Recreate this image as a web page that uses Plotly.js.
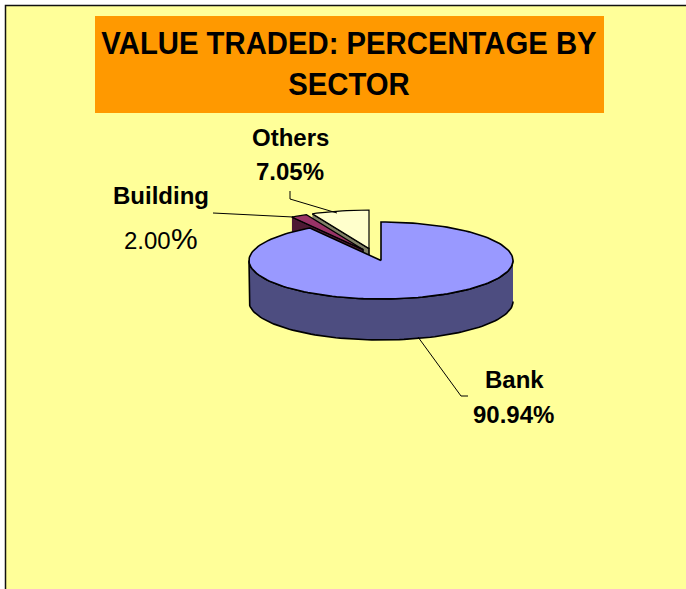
<!DOCTYPE html>
<html>
<head>
<meta charset="utf-8">
<script src="https://cdn.plot.ly/plotly-3.0.1.min.js"></script>
<style>html,body{margin:0;padding:0;background:#fff}#chart{width:686px;height:589px}</style>
</head>
<body>
<div id="chart"></div>
<script>
// Data
const titleText = "VALUE TRADED: PERCENTAGE BY<br>SECTOR";
const sectors = ["Bank", "Building", "Others"];
const shares = [90.94, 2.00, 7.05];

// Pie projection
const cx = 381, cy = 260.5, rx = 132, ry = 38.5, depth = 41;
const offsets = {Bank: [0, 0], Building: [-18, -11], Others: [-12, -12]};
const topColors = {Bank: "#9999FF", Building: "#993366", Others: "#FFFFCC"};
const faceColors = {Bank: "#4D4D80", Building: "#4D1933", Others: "#808066"};

const total = shares.reduce((a, b) => a + b, 0);
const traces = [];

function pt(name, deg, down) {
  const a = deg * Math.PI / 180, o = offsets[name];
  return [cx + o[0] + rx * Math.sin(a), cy + o[1] - ry * Math.cos(a) + (down || 0)];
}
function vertex(name, down) {
  const o = offsets[name];
  return [cx + o[0], cy + o[1] + (down || 0)];
}
function arc(name, from, to, down) {
  const n = Math.max(2, Math.ceil(Math.abs(to - from) / 2)), out = [];
  for (let i = 0; i <= n; i++) out.push(pt(name, from + (to - from) * i / n, down));
  return out;
}
function poly(points, fill, width) {
  traces.push({
    type: "scatter", mode: "lines", fill: "toself", fillcolor: fill,
    x: points.map(p => p[0]), y: points.map(p => p[1]),
    line: {color: "#000", width: width || 1.6}, hoverinfo: "skip", showlegend: false
  });
}

// slice angles, clockwise from twelve o'clock
const spans = {};
let acc = 0;
sectors.forEach((s, i) => {
  const sweep = shares[i] / total * 360;
  spans[s] = [acc, acc + sweep];
  acc += sweep;
});

// back to front
["Others", "Building", "Bank"].forEach(s => {
  const [a0, a1] = spans[s];
  if (s === "Bank") {
    poly(arc(s, 90, 270, 0).concat(arc(s, 270, 90, depth)), faceColors[s]);
  } else {
    poly([pt(s, a0), vertex(s), vertex(s, depth), pt(s, a0, depth)], faceColors[s]);
  }
  poly([vertex(s)].concat(arc(s, a0, a1, 0), [vertex(s)]), topColors[s], s === "Bank" ? 1.6 : 1.2);
});

// Leader lines
const leaders = [
  {x: [290, 290, 337], y: [191, 199, 213]},
  {x: [213, 293], y: [213, 217]},
  {x: [418, 461, 468], y: [337, 396, 396]}
];
leaders.forEach(l => traces.push({
  type: "scatter", mode: "lines", x: l.x, y: l.y,
  line: {color: "#000", width: 1}, hoverinfo: "skip", showlegend: false
}));

const face = "Liberation Sans, Arial, sans-serif";
const pct = v => v.toFixed(2) + "%";
function label(x, y, text, size, bold) {
  return {
    x, y, xref: "x", yref: "y", text, showarrow: false, xanchor: "center", yanchor: "middle",
    font: {family: face, size, color: "#000", weight: bold ? 700 : 400}
  };
}
const annotations = [
  label(290, 137, sectors[2], 24, true),
  label(290, 171, pct(shares[2]), 24, true),
  label(161, 195, sectors[1], 24, true),
  label(147.5, 240, shares[1].toFixed(2), 24, false),
  label(184, 238, "%", 30, false),
  label(514, 379, sectors[0], 24, true),
  label(513, 414, pct(shares[0]), 24, true)
];

const layout = {
  width: 686, height: 589,
  margin: {l: 0, r: 0, t: 0, b: 0},
  paper_bgcolor: "#fff", plot_bgcolor: "rgba(0,0,0,0)",
  showlegend: false,
  title: {
    text: titleText,
    font: {family: face, size: 29.3, color: "#000", weight: 700},
    x: 349 / 686, xanchor: "center", y: 1 - 55 / 589, yanchor: "middle"
  },
  xaxis: {range: [0, 686], visible: false, fixedrange: true},
  yaxis: {range: [589, 0], visible: false, fixedrange: true},
  shapes: [
    {type: "rect", layer: "below", xref: "x", yref: "y", x0: 5.5, y0: 5.5, x1: 700, y1: 700,
      fillcolor: "#FFFF99", line: {color: "#111", width: 1.5}},
    {type: "rect", layer: "below", xref: "x", yref: "y", x0: 95, y0: 16, x1: 604, y1: 113,
      fillcolor: "#FF9900", line: {width: 0}}
  ],
  annotations
};
Plotly.newPlot("chart", traces, layout, {displayModeBar: false, staticPlot: true}).then(gd => {
  // the reference title is set slightly taller than its width suggests
  const t = gd.querySelector(".gtitle");
  if (t) {
    const b = t.getBBox(), mid = b.y + b.height / 2;
    t.setAttribute("transform", `translate(0 ${mid}) scale(1 1.08) translate(0 ${-mid})`);
  }
});
</script>
</body>
</html>
